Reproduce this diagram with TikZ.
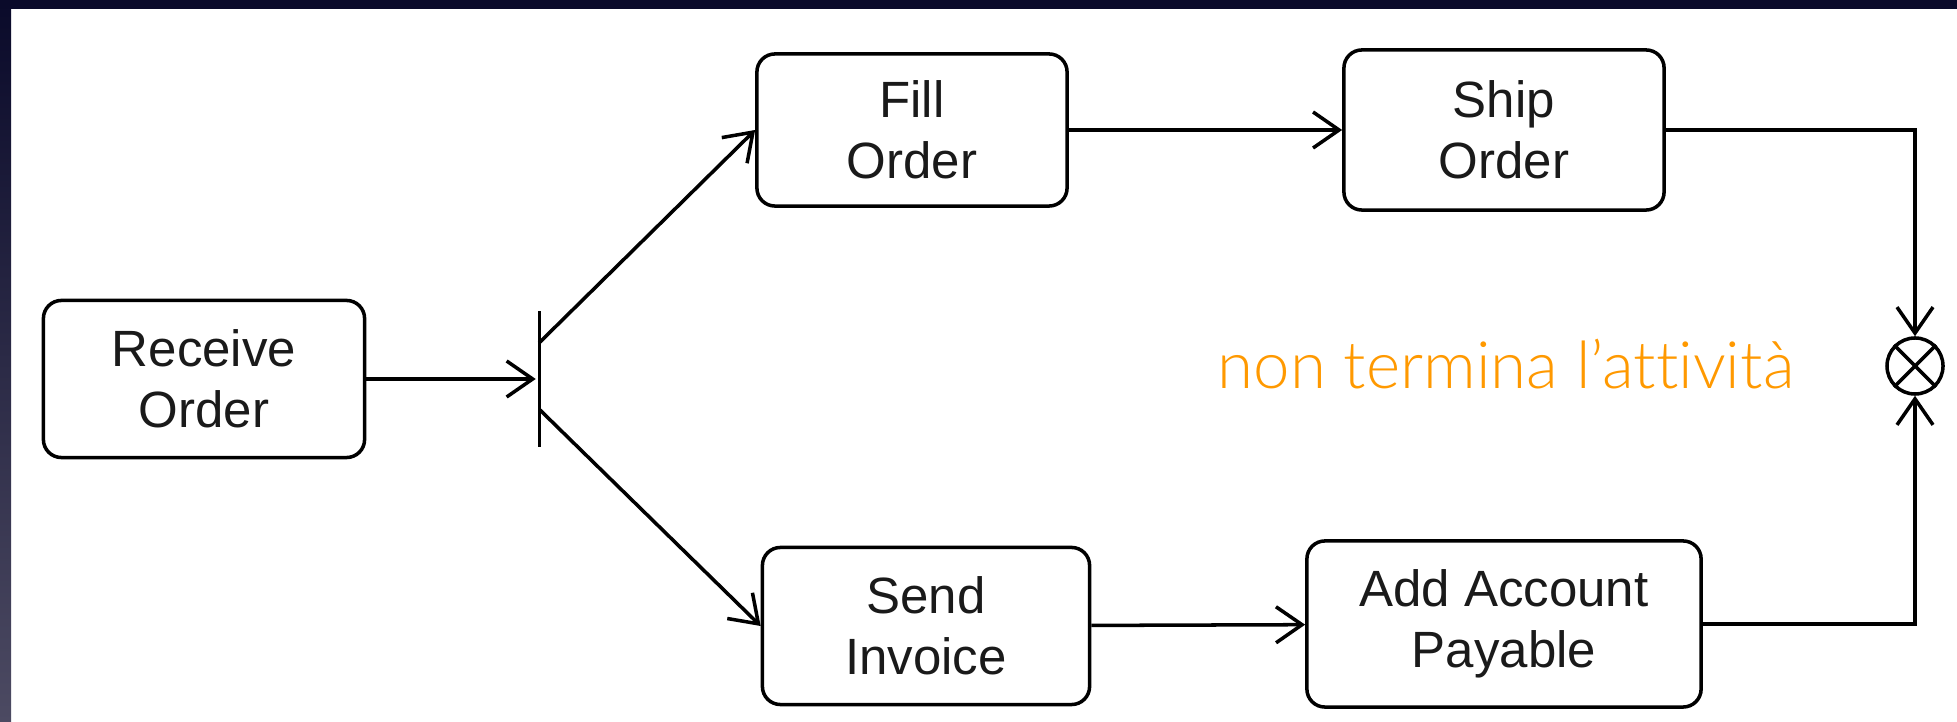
\documentclass[tikz,border=0pt]{standalone}
\usepackage{fontspec}
\setmainfont{Liberation Sans}
\newfontfamily\notefont[Ligatures=NoCommon]{Lato Light}
\usetikzlibrary{arrows.meta,positioning}
\definecolor{rahmen}{HTML}{0A0A2A}
\definecolor{rahmenunten}{HTML}{4C4A62}
\definecolor{hinweis}{HTML}{FF9900}
\definecolor{schrift}{HTML}{1A1A1A}
\begin{document}
\begin{tikzpicture}[x=0.01cm,y=-0.01cm,line width=1pt,
		action/.style={draw,rounded corners=1.8mm,align=center,inner sep=0pt,text=schrift,font=\fontsize{14.5}{17.4}\selectfont},
		flow/.style={-{Straight Barb[length=2.6mm,width=3.6mm]}}]
			%%Hintergrund
			\useasboundingbox (0,0) rectangle (1957,722);
			\fill[white] (0,0) rectangle (1957,722);
			\shade[top color=rahmen,bottom color=rahmenunten] (0,0) rectangle (11,722);
			\fill[rahmen] (0,0) rectangle (1957,9);
		
			%%Aktionen
			\node[action,minimum width=3.21cm,minimum height=1.57cm] (receive) at (204,379) {Receive\\Order};
			\node[action,minimum width=3.10cm,minimum height=1.52cm] (fill) at (912,130) {Fill\\Order};
			\node[action,minimum width=3.20cm,minimum height=1.60cm] (ship) at (1504,130) {Ship\\Order};
			\node[action,minimum width=3.27cm,minimum height=1.57cm] (send) at (926,626) {Send\\Invoice};
			\node[action,minimum width=3.94cm,minimum height=1.66cm] (add) at (1504,624) {Add Account\\Payable};
			
			%%Gabelung und Ende
			\node[fill=black,inner sep=0pt,minimum width=0.3mm,minimum height=1.35cm] (fork) at (539,379) {};
			\coordinate (forkup) at (539,343);
			\coordinate (forklo) at (540,410);
			\node[circle,draw,minimum size=0.56cm,inner sep=0pt] (final) at (1915,366) {};
			\draw (final.north west) -- (final.south east) (final.north east) -- (final.south west);
			
			%%Hinweis
			\node[font=\notefont\fontsize{18.6}{20}\selectfont,text=hinweis,anchor=base] (note) at (1506,389) {non termina l’attività};
			
			%%Pfeile
			\draw[flow] (receive) -- (fork);
			\draw[flow] (forkup) -- (fill.west);
			\draw[flow] (forklo) -- (send.west);
			\draw[flow] (fill) -- (ship);
			\draw[flow] (send) -- (add);
			\draw[flow] (ship.east) -| (final.north);
			\draw[flow] (add.east) -| (final.south);
		\end{tikzpicture}
\end{document}
